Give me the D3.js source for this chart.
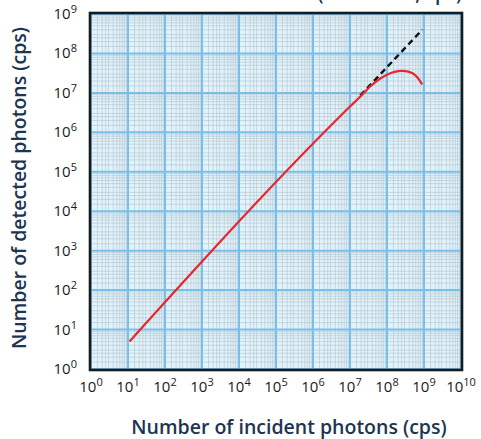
<!DOCTYPE html>
<html>
<head>
<meta charset="utf-8">
<script src="https://cdn.jsdelivr.net/npm/d3@7"></script>
<style>
  body { margin: 0; background: #fff; }
  svg text { font-family: "Open Sans", "Lato", sans-serif; }
</style>
</head>
<body>
<div id="chart"></div>
<script>
// --- data ---
const xDecades = [0, 1, 2, 3, 4, 5, 6, 7, 8, 9, 10];
const yDecades = [0, 1, 2, 3, 4, 5, 6, 7, 8, 9];

// detected counts (red) vs incident counts
const redIncident = [1.1e1, 1e7, 2e7, 3.5e7, 6.3e7, 1e8, 1.6e8, 2.5e8, 4e8, 6.3e8, 8.9e8];
const redDetected = [5, 4.5e6, 8.5e6, 1.45e7, 2.25e7, 2.9e7, 3.4e7, 3.6e7, 3.4e7, 2.6e7, 1.65e7];
// ideal linear response (black dashed)
const idealIncident = [1.9e7, 9e8];
const idealDetected = [8.6e6, 4e8];

const W = 481, H = 439;
const plot = { left: 91, right: 461, top: 14, bottom: 369 };

const svg = d3.select("#chart").append("svg").attr("width", W).attr("height", H);

const x = d3.scaleLog().domain([1, 1e10]).range([plot.left, plot.right]);
const y = d3.scaleLog().domain([1, 1e9]).range([plot.bottom, plot.top]);

// "10" with a raised exponent
function powerLabel(sel) {
  sel.append("tspan").text("10");
  sel.append("tspan").attr("dy", -6).style("font-size", "11px").text(d => d);
}

// cut-off title at the very top
svg.append("text")
  .attr("x", 462).attr("y", 0)
  .attr("text-anchor", "end")
  .style("font-size", "19px").style("font-weight", 600).style("fill", "#1d3550")
  .text("(Measured, cps)");

// background
svg.append("rect")
  .attr("x", plot.left).attr("y", plot.top)
  .attr("width", plot.right - plot.left).attr("height", plot.bottom - plot.top)
  .attr("fill", "#e2f3fc");

// minor grid
const minorSteps = [1.5, 2, 2.5, 3, 4, 5, 6, 7, 8, 9];
const xMinor = [], yMinor = [];
xDecades.slice(0, -1).forEach(p => minorSteps.forEach(k => xMinor.push(k * Math.pow(10, p))));
yDecades.slice(0, -1).forEach(p => minorSteps.forEach(k => yMinor.push(k * Math.pow(10, p))));

const g = svg.append("g");
g.selectAll(".vmin").data(xMinor).join("line")
  .attr("x1", d => x(d)).attr("x2", d => x(d))
  .attr("y1", plot.top).attr("y2", plot.bottom)
  .attr("stroke", "#b4c2cb").attr("stroke-width", 0.6);
g.selectAll(".hmin").data(yMinor).join("line")
  .attr("y1", d => y(d)).attr("y2", d => y(d))
  .attr("x1", plot.left).attr("x2", plot.right)
  .attr("stroke", "#b4c2cb").attr("stroke-width", 0.6);

// major grid
g.selectAll(".vmaj").data(xDecades).join("line")
  .attr("x1", d => x(Math.pow(10, d))).attr("x2", d => x(Math.pow(10, d)))
  .attr("y1", plot.top).attr("y2", plot.bottom)
  .attr("stroke", "#78c0ec").attr("stroke-width", 2);
g.selectAll(".hmaj").data(yDecades).join("line")
  .attr("y1", d => y(Math.pow(10, d))).attr("y2", d => y(Math.pow(10, d)))
  .attr("x1", plot.left).attr("x2", plot.right)
  .attr("stroke", "#78c0ec").attr("stroke-width", 2);

// ideal line (dashed)
const line = d3.line().x(d => x(d[0])).y(d => y(d[1]));
svg.append("path")
  .datum(d3.zip(idealIncident, idealDetected))
  .attr("d", line)
  .attr("fill", "none").attr("stroke", "#111").attr("stroke-width", 2.4)
  .attr("stroke-dasharray", "6,4");

// measured curve (red)
svg.append("path")
  .datum(d3.zip(redIncident, redDetected))
  .attr("d", line.curve(d3.curveMonotoneX))
  .attr("fill", "none").attr("stroke", "#e8262d").attr("stroke-width", 2.2);

// frame
svg.append("rect")
  .attr("x", plot.left - 1).attr("y", plot.top - 1)
  .attr("width", plot.right - plot.left + 2).attr("height", plot.bottom - plot.top + 2)
  .attr("fill", "none").attr("stroke", "#1a1a1a").attr("stroke-width", 2.6);

// tick labels
svg.selectAll(".xl").data(xDecades).join("text")
  .attr("x", d => x(Math.pow(10, d))).attr("y", 392)
  .attr("text-anchor", "middle")
  .style("font-size", "15px").style("font-weight", 500).style("fill", "#1a1a1a")
  .call(powerLabel);
svg.selectAll(".yl").data(yDecades).join("text")
  .attr("x", 77).attr("y", d => y(Math.pow(10, d)) + 5)
  .attr("text-anchor", "end")
  .style("font-size", "15px").style("font-weight", 500).style("fill", "#1a1a1a")
  .call(powerLabel);

// axis titles
svg.append("text")
  .attr("x", 289).attr("y", 434)
  .attr("text-anchor", "middle")
  .style("font-size", "19.5px").style("font-weight", 600).style("fill", "#1d3550")
  .text("Number of incident photons (cps)");
svg.append("text")
  .attr("transform", "translate(26,188) rotate(-90)")
  .attr("text-anchor", "middle")
  .style("font-size", "19.5px").style("font-weight", 600).style("fill", "#1d3550")
  .text("Number of detected photons (cps)");
</script>
</body>
</html>
